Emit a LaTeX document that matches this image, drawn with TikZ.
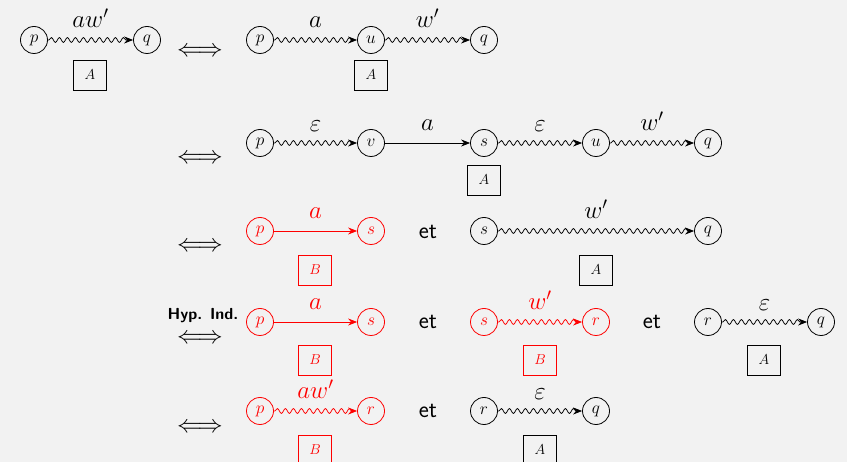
\documentclass[tikz,border=0pt]{standalone}
\usetikzlibrary{decorations.pathmorphing,arrows.meta}
\begin{document}
\begin{tikzpicture}[x=1pt,y=-1pt,
  st/.style={circle, draw, line width=0.8pt, minimum size=27pt, inner sep=0pt, font=\fontsize{16}{18}\selectfont},
  bx/.style={draw, line width=0.8pt, minimum width=33pt, minimum height=30pt, inner sep=0pt, font=\fontsize{15}{17}\selectfont},
  wav/.style={line width=0.75pt, decorate, decoration={snake, amplitude=2.4pt, segment length=8pt, post length=4pt, pre length=1pt}, -{Stealth[length=9pt,width=7pt]}},
  str/.style={line width=0.75pt, -{Stealth[length=9pt,width=7pt]}},
  lab/.style={font=\fontsize{26}{30}\selectfont, midway, anchor=base, yshift=12pt, inner sep=0pt},
  iff/.style={font=\fontsize{27}{30}\selectfont, inner sep=0pt},
  et/.style={font=\fontsize{24}{28}\selectfont\sffamily, inner sep=0pt}
]
\fill[black!5] (0,0) rectangle (847,462);
\useasboundingbox (0,0) rectangle (847,462);
% Row 1
\node[st] (p1) at (34,40) {$p$};
\node[st] (q1) at (147,40) {$q$};
\node[bx] (A1) at (90,75) {$A$};
\draw[wav] (p1) -- (q1) node[lab] (l1) {$aw'$};
\node[iff] (i1) at (200,52) {$\Longleftrightarrow$};
\node[st] (p2) at (260,40) {$p$};
\node[st] (u2) at (371,40) {$u$};
\node[st] (q2) at (484,40) {$q$};
\node[bx] (A2) at (371,75) {$A$};
\draw[wav] (p2) -- (u2) node[lab] (l2) {$a$};
\draw[wav] (u2) -- (q2) node[lab] (l3) {$w'$};
% Row 2
\node[iff] (i2) at (200,159) {$\Longleftrightarrow$};
\node[st] (p3) at (260,143) {$p$};
\node[st] (v3) at (371,143) {$v$};
\node[st] (s3) at (484,143) {$s$};
\node[st] (u3) at (596,143) {$u$};
\node[st] (q3) at (708,143) {$q$};
\node[bx] (A3) at (484,180) {$A$};
\draw[wav] (p3) -- (v3) node[lab, yshift=-1pt] (l4) {$\varepsilon$};
\draw[str] (v3) -- (s3) node[lab] (l5) {$a$};
\draw[wav] (s3) -- (u3) node[lab, yshift=-1pt] (l6) {$\varepsilon$};
\draw[wav] (u3) -- (q3) node[lab] (l7) {$w'$};
% Row 3
\node[iff] (i3) at (200,247) {$\Longleftrightarrow$};
\begin{scope}[red]
\node[st] (p4) at (260,231) {$p$};
\node[st] (s4) at (371,231) {$s$};
\node[bx] (B4) at (315,270) {$B$};
\draw[str] (p4) -- (s4) node[lab] (l8) {$a$};
\end{scope}
\node[et] (e4) at (428,232) {et};
\node[st] (s4b) at (484,231) {$s$};
\node[st] (q4) at (708,231) {$q$};
\node[bx] (A4) at (596,270) {$A$};
\draw[wav] (s4b) -- (q4) node[lab] (l9) {$w'$};
% Row 4
\node[font=\fontsize{16}{18}\selectfont\sffamily\bfseries, inner sep=0pt] (h5) at (203,316) {Hyp. Ind.};
\node[iff] (i5) at (200,339) {$\Longleftrightarrow$};
\begin{scope}[red]
\node[st] (p5) at (260,322) {$p$};
\node[st] (s5) at (371,322) {$s$};
\node[bx] (B5) at (315,360) {$B$};
\draw[str] (p5) -- (s5) node[lab] (l10) {$a$};
\end{scope}
\node[et] (e5) at (428,322) {et};
\begin{scope}[red]
\node[st] (s5b) at (484,322) {$s$};
\node[st] (r5) at (596,322) {$r$};
\node[bx] (B5b) at (540,360) {$B$};
\draw[wav] (s5b) -- (r5) node[lab] (l11) {$w'$};
\end{scope}
\node[et] (e5b) at (652,322) {et};
\node[st] (r5b) at (708,322) {$r$};
\node[st] (q5) at (821,322) {$q$};
\node[bx] (A5) at (764,360) {$A$};
\draw[wav] (r5b) -- (q5) node[lab, yshift=-1pt] (l12) {$\varepsilon$};
% Row 5
\node[iff] (i6) at (200,428) {$\Longleftrightarrow$};
\begin{scope}[red]
\node[st] (p6) at (260,411) {$p$};
\node[st] (r6) at (371,411) {$r$};
\node[bx] (B6) at (315,450) {$B$};
\draw[wav] (p6) -- (r6) node[lab] (l13) {$aw'$};
\end{scope}
\node[et] (e6) at (428,411) {et};
\node[st] (r6b) at (484,411) {$r$};
\node[st] (q6) at (596,411) {$q$};
\node[bx] (A6) at (540,450) {$A$};
\draw[wav] (r6b) -- (q6) node[lab, yshift=-1pt] (l14) {$\varepsilon$};
\end{tikzpicture}
\end{document}
